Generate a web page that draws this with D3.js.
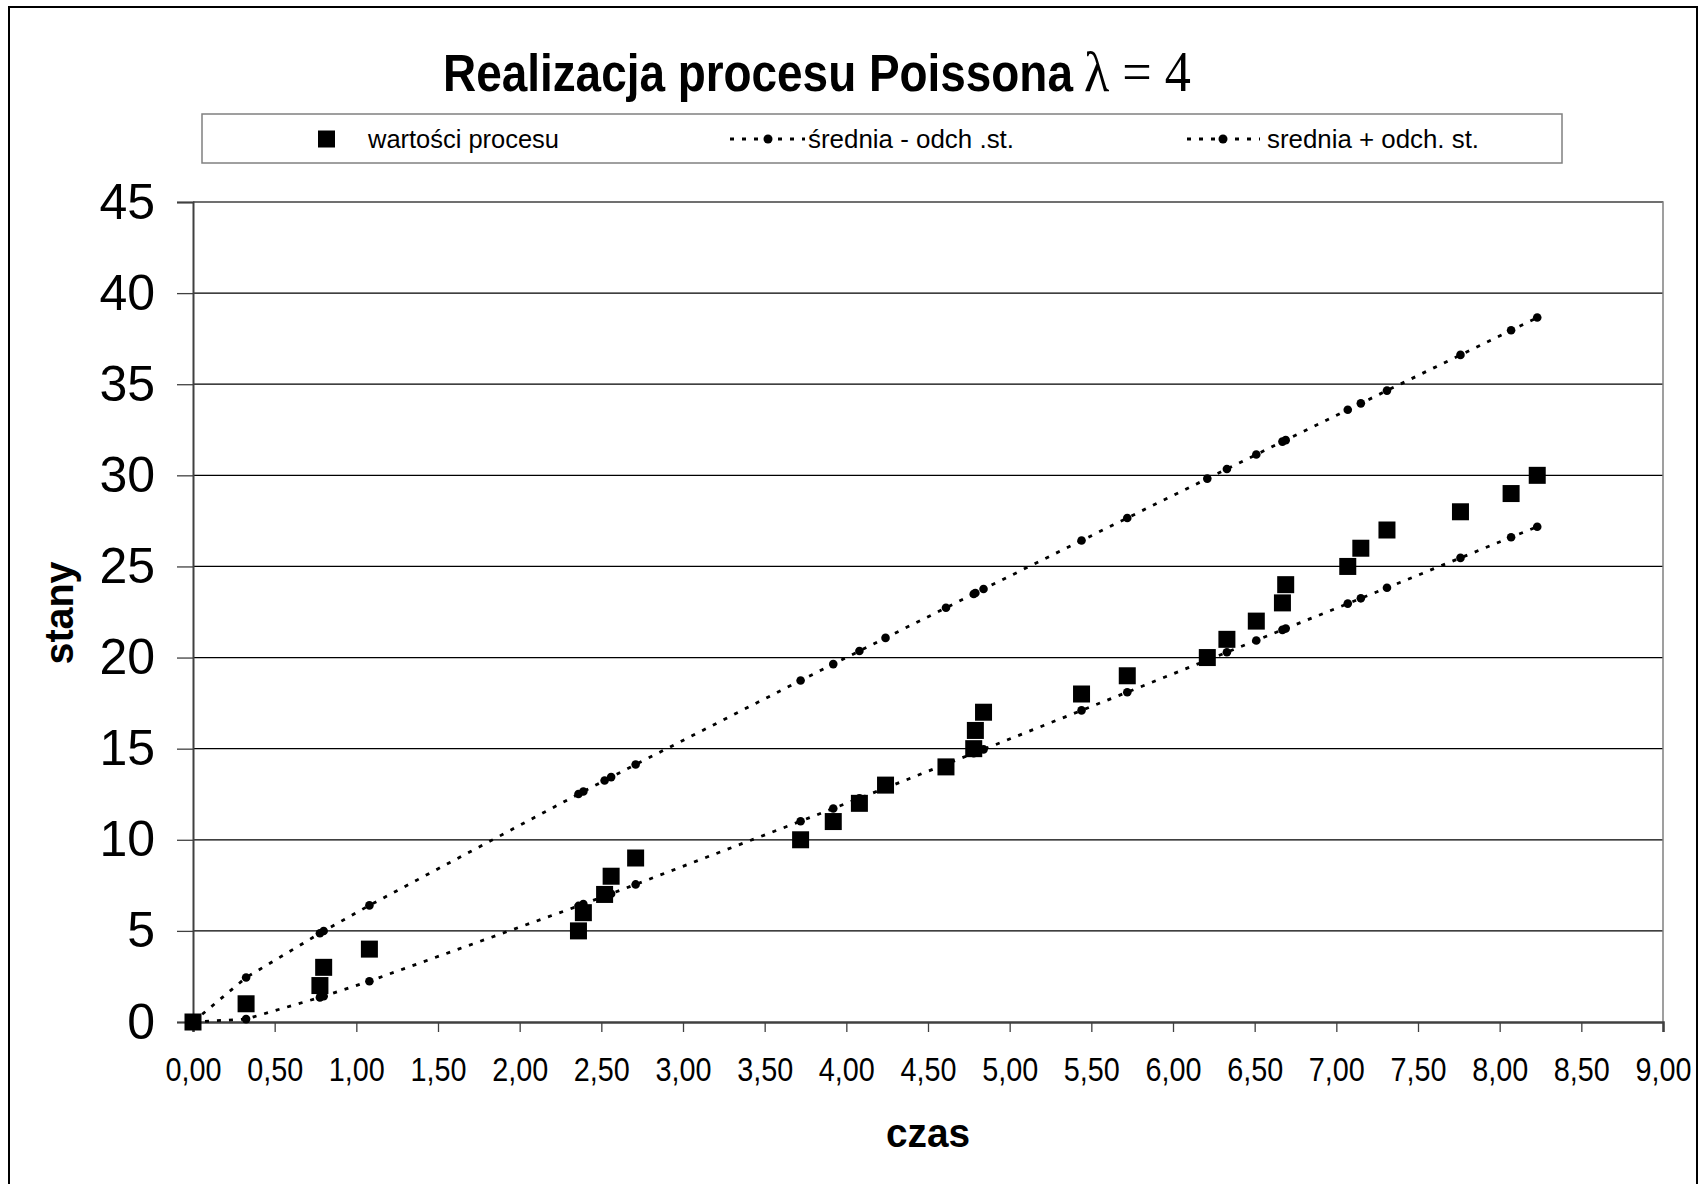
<!DOCTYPE html>
<html>
<head>
<meta charset="utf-8">
<script src="https://cdn.jsdelivr.net/npm/d3@7"></script>
<style>
  html, body { margin: 0; padding: 0; background: #fff; }
  svg { display: block; font-family: "Liberation Sans", Arial, sans-serif; }
</style>
</head>
<body>
<svg id="chart" width="1701" height="1184"></svg>
<script>
// ---- data ----
const times = [0.00, 0.325, 0.777, 0.80, 1.08, 2.36, 2.39, 2.52, 2.56, 2.71, 3.72, 3.92, 4.08, 4.24, 4.61, 4.78, 4.79, 4.84, 5.44, 5.72, 6.21, 6.33, 6.51, 6.67, 6.69, 7.07, 7.15, 7.31, 7.76, 8.07, 8.23];
const processValues = [0, 1, 2, 3, 4, 5, 6, 7, 8, 9, 10, 11, 12, 13, 14, 15, 16, 17, 18, 19, 20, 21, 22, 23, 24, 25, 26, 27, 28, 29, 30];
const meanMinusSd = [0, 0.16, 1.35, 1.41, 2.24, 6.37, 6.47, 6.91, 7.04, 7.55, 11.02, 11.72, 12.28, 12.84, 14.15, 14.75, 14.78, 14.96, 17.10, 18.10, 19.86, 20.29, 20.94, 21.52, 21.59, 22.96, 23.25, 23.83, 25.47, 26.60, 27.18];
const meanPlusSd = [0, 2.44, 4.87, 4.99, 6.40, 12.51, 12.65, 13.25, 13.44, 14.13, 18.74, 19.64, 20.36, 21.08, 22.73, 23.49, 23.54, 23.76, 26.42, 27.66, 29.82, 30.35, 31.14, 31.85, 31.93, 33.60, 33.95, 34.65, 36.61, 37.96, 38.66];
const xTicks = [0, 0.5, 1, 1.5, 2, 2.5, 3, 3.5, 4, 4.5, 5, 5.5, 6, 6.5, 7, 7.5, 8, 8.5, 9];
const yTicks = [0, 5, 10, 15, 20, 25, 30, 35, 40, 45];
const titleMain = "Realizacja procesu Poissona";
const titleLambda = "\u03BB = 4";
const legendLabels = ["wartości procesu", "średnia - odch .st.", "srednia + odch. st."];
const xTitle = "czas";
const yTitle = "stany";

// ---- layout ----
const svg = d3.select("#chart");
const plot = { left: 193, right: 1663, top: 202, bottom: 1022 };

const x = d3.scaleLinear().domain([0, 9]).range([plot.left, plot.right]);
const y = d3.scaleLinear().domain([0, 45]).range([plot.bottom, plot.top]);

// outer frame
svg.append("rect")
  .attr("x", 9).attr("y", 7).attr("width", 1688).attr("height", 1200)
  .attr("fill", "#fff").attr("stroke", "#000").attr("stroke-width", 2);

// title (single text element, horizontally condensed)
const tScale = 0.9;
const title = svg.append("text")
  .attr("transform", `translate(443,91) scale(${tScale},1)`)
  .attr("fill", "#000");
title.append("tspan")
  .attr("x", 0)
  .attr("font-weight", "bold").attr("font-size", 51)
  .text(titleMain);
title.append("tspan")
  .attr("x", (1084 - 443) / tScale)
  .attr("font-size", 58)
  .attr("font-family", "'Liberation Serif', 'Times New Roman', serif")
  .text(titleLambda);

// legend
const lg = svg.append("g");
lg.append("rect")
  .attr("x", 202).attr("y", 114).attr("width", 1360).attr("height", 49)
  .attr("fill", "#fff").attr("stroke", "#808080").attr("stroke-width", 1.5);
const legendY = 139;
lg.append("rect")
  .attr("x", 318).attr("y", legendY - 8.5).attr("width", 17).attr("height", 17)
  .attr("fill", "#000");
lg.append("text").attr("x", 368).attr("y", legendY + 9)
  .attr("font-size", 26).attr("textLength", 191).attr("lengthAdjust", "spacingAndGlyphs")
  .text(legendLabels[0]);
[[730, 805, 768, 808, legendLabels[1], 206], [1187, 1260, 1223, 1267, legendLabels[2], 212]].forEach(d => {
  lg.append("line")
    .attr("x1", d[0]).attr("x2", d[1]).attr("y1", legendY).attr("y2", legendY)
    .attr("stroke", "#000").attr("stroke-width", 2.8)
    .attr("stroke-dasharray", "4,8");
  lg.append("circle").attr("cx", d[2]).attr("cy", legendY).attr("r", 4.5).attr("fill", "#000");
  lg.append("text").attr("x", d[3]).attr("y", legendY + 9)
    .attr("font-size", 26).attr("textLength", d[5]).attr("lengthAdjust", "spacingAndGlyphs")
    .text(d[4]);
});

// gridlines
svg.append("g")
  .selectAll("line")
  .data(yTicks.filter(v => v > 0))
  .join("line")
  .attr("x1", plot.left).attr("x2", plot.right)
  .attr("y1", d => y(d)).attr("y2", d => y(d))
  .attr("stroke", "#000").attr("stroke-width", 1.3);

// plot area border (top/right gray)
svg.append("path")
  .attr("d", `M${plot.left},${plot.top}H${plot.right}V${plot.bottom}`)
  .attr("fill", "none").attr("stroke", "#808080").attr("stroke-width", 1.5);

// y axis
const yAxis = d3.axisLeft(y).tickValues(yTicks).tickSize(16).tickPadding(22)
  .tickFormat(d3.format("d"));
const gy = svg.append("g").attr("transform", `translate(${plot.left},0)`).call(yAxis);
gy.select(".domain").attr("stroke", "#404040").attr("stroke-width", 2);
gy.selectAll(".tick line").attr("stroke", "#404040").attr("stroke-width", 1.3);
gy.selectAll(".tick text")
  .attr("font-size", 50).attr("fill", "#000")
  .attr("font-family", "'Liberation Sans', Arial, sans-serif");

// x axis
const fmtX = d => d3.format(".2f")(d).replace(".", ",");
const xAxis = d3.axisBottom(x).tickValues(xTicks).tickSize(10).tickPadding(26)
  .tickFormat(fmtX);
const gx = svg.append("g").attr("transform", `translate(0,${plot.bottom})`).call(xAxis);
gx.select(".domain").attr("stroke", "#404040").attr("stroke-width", 2.5);
gx.selectAll(".tick line").attr("stroke", "#404040").attr("stroke-width", 1.3);
gx.selectAll(".tick text")
  .attr("font-size", 33).attr("fill", "#000")
  .attr("textLength", 56).attr("lengthAdjust", "spacingAndGlyphs")
  .attr("font-family", "'Liberation Sans', Arial, sans-serif");

// axis titles
svg.append("text")
  .attr("x", 928).attr("y", 1147)
  .attr("text-anchor", "middle").attr("font-weight", "bold").attr("font-size", 40)
  .attr("textLength", 84).attr("lengthAdjust", "spacingAndGlyphs")
  .text(xTitle);
svg.append("text")
  .attr("transform", "translate(73,613) rotate(-90)")
  .attr("text-anchor", "middle").attr("font-weight", "bold").attr("font-size", 40)
  .attr("textLength", 103).attr("lengthAdjust", "spacingAndGlyphs")
  .text(yTitle);

// series
const lineGen = d3.line().x(d => x(d[0])).y(d => y(d[1]));
[meanMinusSd, meanPlusSd].forEach(vals => {
  const pts = times.map((t, i) => [t, vals[i]]);
  svg.append("path")
    .attr("d", lineGen(pts))
    .attr("fill", "none").attr("stroke", "#000").attr("stroke-width", 2.8)
    .attr("stroke-dasharray", "4,8");
  svg.append("g").selectAll("circle")
    .data(pts.slice(1))
    .join("circle")
    .attr("cx", d => x(d[0])).attr("cy", d => y(d[1])).attr("r", 4.3)
    .attr("fill", "#000");
});

const sq = 17;
svg.append("g").selectAll("rect")
  .data(times.map((t, i) => [t, processValues[i]]))
  .join("rect")
  .attr("x", d => x(d[0]) - sq / 2).attr("y", d => y(d[1]) - sq / 2)
  .attr("width", sq).attr("height", sq)
  .attr("fill", "#000");
</script>
</body>
</html>
